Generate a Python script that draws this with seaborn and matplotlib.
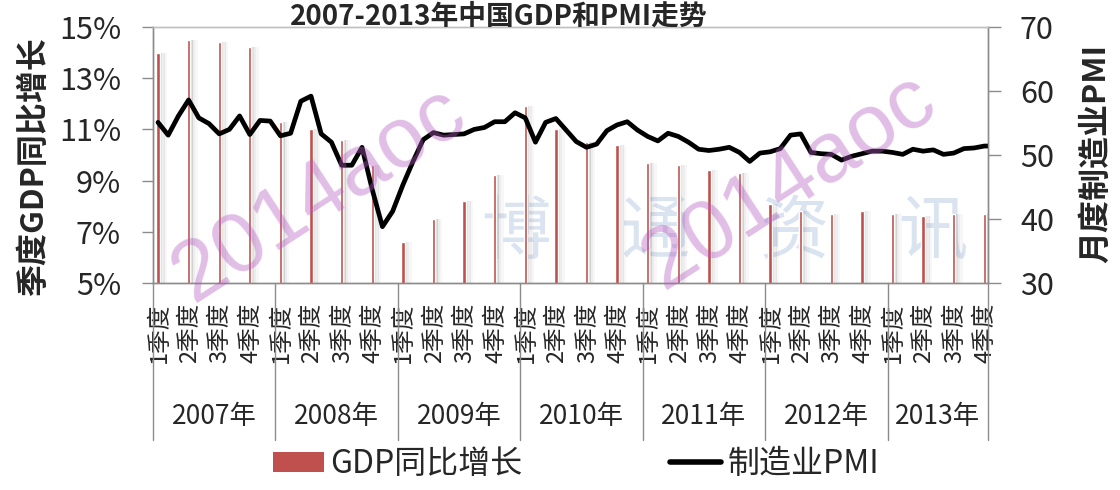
import matplotlib
matplotlib.use("Agg")
import matplotlib.pyplot as plt
from matplotlib.lines import Line2D
from matplotlib.patches import Patch
from matplotlib.transforms import blended_transform_factory
import numpy as np
import pandas as pd
import seaborn as sns

# ---- data ----
years = ["2007年", "2008年", "2009年", "2010年", "2011年", "2012年", "2013年"]
quarters = ["1季度", "2季度", "3季度", "4季度"]

# quarterly GDP growth, %
gdp_growth = [
    14.0, 14.5, 14.4, 14.2,
    11.3, 11.0, 10.6, 9.6,
    6.6, 7.5, 8.2, 9.2,
    11.9, 11.0, 10.5, 10.4,
    9.7, 9.6, 9.4, 9.3,
    8.1, 7.8, 7.7, 7.8,
    7.7, 7.6, 7.7, 7.7,
]

# monthly manufacturing PMI
pmi_2007 = [55.1, 53.1, 56.1, 58.6, 55.8, 54.9, 53.3, 54.0, 56.1, 53.2, 55.4, 55.3]
pmi_2008 = [53.0, 53.4, 58.4, 59.2, 53.3, 52.0, 48.4, 48.4, 51.2, 44.6, 38.8, 41.2]
pmi_2009 = [45.3, 49.0, 52.4, 53.5, 53.1, 53.2, 53.3, 54.0, 54.3, 55.2, 55.2, 56.6]
pmi_2010 = [55.8, 52.0, 55.1, 55.7, 53.9, 52.1, 51.2, 51.7, 53.8, 54.7, 55.2, 53.9]
pmi_2011 = [52.9, 52.2, 53.4, 52.9, 52.0, 50.9, 50.7, 50.9, 51.2, 50.4, 49.0, 50.3]
pmi_2012 = [50.5, 51.0, 53.1, 53.3, 50.4, 50.2, 50.1, 49.2, 49.8, 50.2, 50.6, 50.6]
pmi_2013 = [50.4, 50.1, 50.9, 50.6, 50.8, 50.1, 50.3, 51.0, 51.1, 51.4, 51.4, 51.0]

title = "2007-2013年中国GDP和PMI走势"
left_label = "季度GDP同比增长"
right_label = "月度制造业PMI"
gdp_name = "GDP同比增长"
pmi_name = "制造业PMI"

W, H = 1120, 490
RED = "#C0504D"
GRID = "#8c8c8c"
# the category axis of the source is stretched: bars sit at the left of their slot
BAR_SHIFT = 0.163


def px(x, y):
    return x / W, 1 - y / H


pmi = pmi_2007 + pmi_2008 + pmi_2009 + pmi_2010 + pmi_2011 + pmi_2012 + pmi_2013
q_pos = np.arange(len(gdp_growth))
m_pos = np.arange(len(pmi)) / 3.0
df_q = pd.DataFrame({"pos": q_pos, "gdp": gdp_growth})
df_m = pd.DataFrame({"pos": m_pos, "pmi": pmi})

sns.set_theme(style="white")
plt.rcParams["font.family"] = ["Noto Sans CJK SC", "DejaVu Sans"]
plt.rcParams["axes.unicode_minus"] = False

fig = plt.figure(figsize=(W / 100, H / 100), dpi=100)
fig.patch.set_facecolor("white")
ax = fig.add_axes([153 / W, 1 - 283 / H, (988 - 153) / W, (283 - 27) / H])
ax.set_facecolor("none")

# faint logo in the background
fig.text(*px(725, 232), "博　通　资　讯", fontsize=50, color="#dae3f0",
         ha="center", va="center", zorder=-1)

# soft shadow on the right of each bar
for off, wid, alpha in [(0.09, 0.09, 0.22), (0.17, 0.09, 0.12), (0.25, 0.09, 0.05)]:
    ax.bar(q_pos + off, gdp_growth, width=wid, color="#707070", alpha=alpha,
           linewidth=0, zorder=1)
sns.barplot(data=df_q, x="pos", y="gdp", native_scale=True, width=0.11,
            color=RED, saturation=1, errorbar=None, ax=ax, zorder=2)

ax.set_ylim(5, 15)
ax.set_yticks(range(5, 16, 2))
ax.set_yticklabels([f"{v}%" for v in range(5, 16, 2)])
ax.set_ylabel("")
ax.set_xlabel("")

ax2 = ax.twinx()
sns.lineplot(data=df_m, x="pos", y="pmi", color="black", linewidth=3.4, ax=ax2)
ax2.set_ylim(30, 70)
ax2.set_yticks(range(30, 71, 10))
ax2.set_ylabel("")

x_right = len(gdp_growth) - 0.88
ax.set_xlim(-BAR_SHIFT, x_right)

ax.set_xticks(q_pos + 0.03)
ax.set_xticklabels(quarters * len(years), rotation=90, fontsize=17)
ax.tick_params(axis="x", length=0, pad=14)
ax.tick_params(axis="y", left=True, direction="out", length=8, width=1,
               color=GRID, pad=15, labelsize=22)
ax2.tick_params(axis="y", right=True, direction="out", length=9, width=1,
                color=GRID, pad=14, labelsize=22)

for a in (ax, ax2):
    for name, sp in a.spines.items():
        sp.set_visible(True)
        sp.set_color("#c0c0c0" if name == "top" else GRID)
        sp.set_linewidth(1)

# year separators and labels of the two-level category axis
trans = blended_transform_factory(ax.transData, ax.transAxes)
seps = np.minimum(np.arange(0, len(gdp_growth) + 1, 4) - BAR_SHIFT, x_right)
for x in seps:
    ax.plot([x, x], [0, -0.613], transform=trans, color=GRID, lw=1,
            clip_on=False)
for yr, x0, x1 in zip(years, seps[:-1], seps[1:]):
    ax.text((x0 + x1) / 2, -0.523, yr, transform=trans, ha="center",
            va="center", fontsize=19)

fig.text(*px(499, 25), title, ha="center", va="baseline", fontsize=20,
         fontweight="bold")
fig.text(*px(34, 167), left_label, rotation=90, ha="center", va="center",
         fontsize=23, fontweight="bold")
fig.text(*px(1096, 153), right_label, rotation=90, ha="center", va="center",
         fontsize=23, fontweight="bold")

handles = [Patch(facecolor=RED, edgecolor="none"),
           Line2D([], [], color="black", linewidth=4)]
fig.legend(handles, [gdp_name, pmi_name], loc="center",
           bbox_to_anchor=px(576, 464), ncol=2, frameon=False, fontsize=23,
           handlelength=1.6, handleheight=0.6, handletextpad=0.2,
           columnspacing=4.6)

# "2014aoc" watermarks
for cx, cy in [(320, 195), (790, 182)]:
    fig.text(*px(cx, cy), "2014aoc", rotation=33, fontsize=62,
             family="Liberation Sans", color="#b45cc0", alpha=0.4,
             ha="center", va="center", zorder=10)

fig.savefig("out.png", dpi=100)
